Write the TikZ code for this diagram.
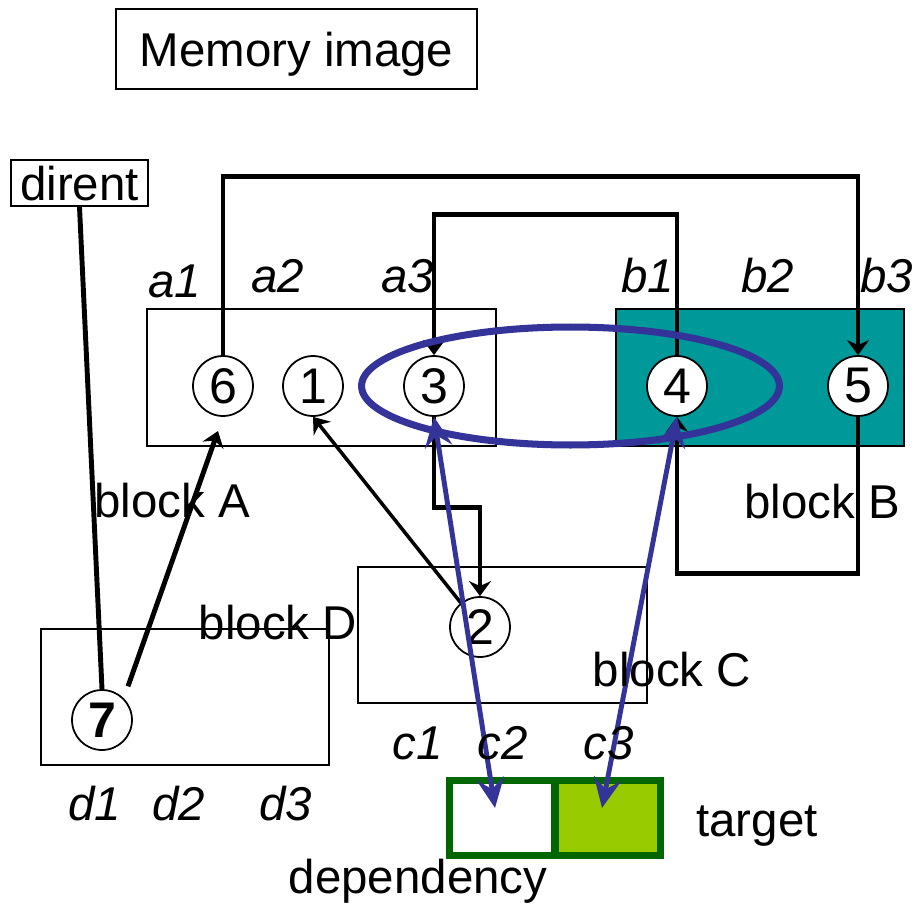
\documentclass[tikz,border=0pt]{standalone}
\usepackage{fontspec}
\setmainfont{Liberation Sans}
\usetikzlibrary{arrows.meta}
\definecolor{blockteal}{HTML}{009999}
\definecolor{ptrblue}{HTML}{333399}
\definecolor{celledge}{HTML}{006600}
\definecolor{celllime}{HTML}{99CC00}

\begin{document}
\begin{tikzpicture}[x=0.02cm,y=-0.02cm,>={Stealth[length=0.3cm,width=0.44cm]},
  every node/.style={font=\fontsize{27}{30}\selectfont},
  circ/.style={circle,draw,fill=white,line width=1pt,minimum size=1.2cm,inner sep=0pt,
    font=\fontsize{28.5}{30}\selectfont},
  blk/.style={draw,line width=1pt},
  conn/.style={line width=2.8pt},
  link/.style={draw=ptrblue,line width=2.8pt,
    {Stealth[length=0.6cm,width=0.55cm,inset=0.22cm]}-{Stealth[length=0.6cm,width=0.55cm,inset=0.22cm]}},
  cell/.style={draw=celledge,line width=4pt},
  lbl/.style={anchor=base},
  ital/.style={anchor=base,font=\fontsize{27}{30}\selectfont\itshape}]
  \useasboundingbox (0,0) rectangle (921,906);

  \node[draw,line width=1pt,minimum width=7.22cm,minimum height=1.6cm,text depth=0pt] (mem) at (296.5,49) {Memory image};
  \node[draw,line width=1pt,minimum width=2.74cm,minimum height=0.92cm,text depth=0pt,inner sep=0pt] (dirent) at (79.5,183) {dirent};

  \draw[blk] (147,309) rectangle (496,446);
  \draw[blk,fill=blockteal] (616,309) rectangle (904,446);
  \draw[blk] (358,567) rectangle (647,703);
  \draw[blk] (41,629) rectangle (329,765);

  \draw[cell,fill=white] (449.5,780.5) rectangle (555,855.5);
  \draw[cell,fill=celllime] (555,780.5) rectangle (660.5,855.5);
  \coordinate (depend) at (495,808);
  \coordinate (targ) at (602,808);

  \node[circ] (n6) at (223,386) {6};
  \node[circ] (n1) at (313,386) {1};
  \node[circ] (n3) at (434,386) {3};
  \node[circ] (n4) at (677,386) {4};
  \node[circ] (n5) at (858,386) {5};
  \node[circ] (n2) at (480,627) {2};
  \node[circ] (n7) at (102,720) {\textbf{7}};

  \draw[conn,->] (n6.north) -- ++(0,-179) -| (n5.north);
  \draw[conn,->] (n4.north) -- ++(0,-141) -| (n3.north);
  \draw[conn,->] (n3.south) -- ++(0,91) -| (n2.north);
  \draw[conn,->] (n5.south) -- ++(0,157) -| (n4.south);
  \draw[line width=2pt,->] (n2) -- (n1.south);
  \draw[conn,->,shorten <=0.25cm,shorten >=0.3cm] (n7.north east) -- (n6.south);
  \draw[conn] (dirent.south) -- (n7.north);

  \draw[ptrblue,line width=4pt] (570.5,386) ellipse [x radius=4.18cm,y radius=1.18cm];
  \draw[link] (n3.south) -- (depend);
  \draw[link] (n4.south) -- (targ);

  \foreach \t/\x/\y in {a1/175/297,a2/278/292,a3/408/292,b1/648/292,b2/768/292,b3/887/292,
      c1/418/759,c2/503/759,c3/609/759,d1/95/820,d2/179/820,d3/286/820}
    \node[ital] (l\t) at (\x,\y) {\t};

  \node[lbl] (blkA) at (172,517) {block A};
  \node[lbl] (blkB) at (822,518) {block B};
  \node[lbl] (blkC) at (672,686) {block C};
  \node[lbl] (blkD) at (278,639) {block D};
  \node[lbl] (target) at (757,836) {target};
  \node[lbl] (dep) at (418,893) {dependency};
\end{tikzpicture}
\end{document}
